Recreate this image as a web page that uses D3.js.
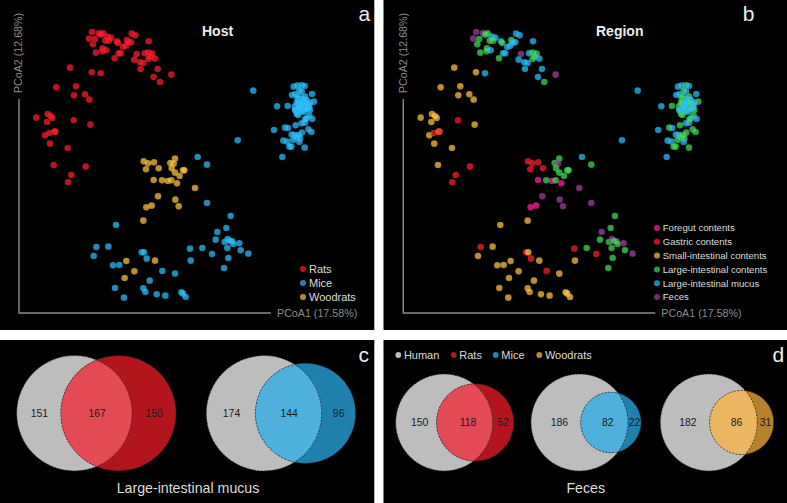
<!DOCTYPE html>
<html>
<head>
<meta charset="utf-8">
<script src="https://cdn.jsdelivr.net/npm/d3@7"></script>
<style>
  html, body { margin: 0; padding: 0; background: #fff; }
  svg { display: block; }
  text { font-family: "Liberation Sans", Arial, sans-serif; }
</style>
</head>
<body>
<svg id="chart" width="787" height="503"></svg>
<script>
// ordination scores, [pcoa1, pcoa2, region]
// F foregut, G gastric, S small-int, L large-int contents, M mucus, X feces
const rats = [
  [276,904,"X"],[296,900,"X"],[310,900,"L"],[303,896,"L"],[267,884,"X"],[285,883,"L"],[279,867,"L"],[322,890,"M"],
  [333,887,"M"],[316,878,"L"],[327,878,"L"],[350,876,"M"],[354,871,"L"],[395,899,"M"],[406,894,"M"],[381,880,"L"],
  [393,873,"M"],[378,863,"M"],[369,859,"M"],[385,872,"M"],[446,876,"M"],[288,842,"L"],[308,855,"L"],[307,846,"L"],
  [319,849,"M"],[356,840,"M"],[363,840,"M"],[344,825,"L"],[410,838,"X"],[403,821,"M"],[434,840,"M"],[445,842,"L"],
  [457,839,"L"],[451,830,"L"],[465,824,"M"],[445,823,"L"],[420,813,"M"],[430,811,"M"],[422,793,"M"],[473,793,"M"],
  [461,769,"M"],[480,754,"L"],[514,776,"X"],[210,797,"S"],[275,783,"S"],[302,780,"M"],[169,738,"S"],[228,741,"S"],
  [222,714,"S"],[255,717,"S"],[268,701,"S"],[109,647,"S"],[143,658,"S"],[152,652,"S"],[157,646,"S"],[141,634,"S"],
  [221,639,"G"],[271,626,"S"],[135,594,"S"],[148,601,"G"],[164,605,"S"],[166,605,"G"],[150,569,"S"],[203,556,"S"],
  [161,505,"S"],[257,500,"G"],[214,475,"G"],[204,453,"G"]
];
const mice = [
  [348,325,"S"],[289,259,"G"],[325,260,"S"],[281,232,"S"],[339,204,"S"],[358,205,"S"],[345,136,"S"],[372,107,"S"],
  [425,243,"G"],[432,243,"S"],[440,224,"G"],[487,187,"G"],[525,179,"S"],[449,158,"S"],[430,135,"S"],[436,124,"S"],
  [470,117,"S"],[496,113,"S"],[544,123,"S"],[549,119,"S"],[557,109,"S"],[570,254,"G"],[572,218,"S"],
  [621,506,"L"],[621,391,"X"],[692,352,"L"],[652,304,"X"],[679,316,"L"],[647,281,"L"],[674,274,"L"],[683,283,"X"],
  [697,276,"X"],[700,268,"L"],[690,277,"L"],[718,270,"X"],[682,256,"L"],[722,249,"L"],[745,239,"X"],[685,226,"L"],
  [672,196,"L"],[607,256,"L"],[636,238,"G"],
  [760,728,"M"],[831,681,"M"],[863,682,"L"],[822,610,"M"],[855,617,"L"],[864,616,"M"],[887,624,"L"],[713,579,"M"],
  [593,529,"M"],[847,529,"M"],[914,557,"L"],
  [881,740,"M"],[892,743,"M"],[905,744,"L"],[914,742,"M"],[876,715,"M"],[886,717,"M"],[898,728,"L"],[905,725,"M"],
  [936,718,"M"],[915,710,"L"],[942,695,"L"],[892,702,"L"],[908,704,"M"],[920,700,"M"],[884,680,"L"],[895,690,"M"],
  [903,682,"L"],[915,680,"L"],[925,675,"M"],[888,667,"M"],[900,670,"L"],[913,665,"L"],[890,658,"L"],[928,653,"L"],
  [920,645,"M"],[915,632,"M"],[905,630,"M"],[937,643,"M"],[915,642,"L"],[895,655,"L"],[925,612,"L"],[934,604,"L"],
  [900,680,"M"],[910,695,"M"],[925,685,"L"],[930,670,"L"],[885,670,"M"],[895,710,"L"],
  [890,690,"L"],[905,690,"M"],[918,690,"L"],[928,682,"M"],[905,665,"M"],[918,672,"M"],[930,692,"M"],[897,676,"M"],
  [875,596,"M"],[884,595,"M"],[906,602,"L"],[896,595,"L"],[890,588,"L"],[900,585,"L"],[850,578,"M"],[862,575,"M"],
  [880,580,"L"],[898,574,"M"],[868,560,"L"],[874,560,"L"]
];
const woodrats = [
  [431,516,"G"],[444,510,"G"],[462,513,"G"],[476,495,"G"],[438,492,"G"],[525,524,"L"],[511,511,"L"],[521,509,"X"],
  [515,495,"L"],[525,482,"L"],[549,489,"L"],[553,489,"L"],[539,472,"L"],[461,460,"F"],[486,459,"L"],[503,457,"F"],
  [514,459,"L"],[531,450,"F"],[585,436,"X"],[474,411,"X"],[526,401,"X"],[536,381,"X"],[455,383,"F"],[439,378,"F"],
  [430,338,"S"],[379,217,"S"],[403,186,"S"],[374,166,"S"],[465,218,"S"]
];

const hostNames = ["Rats", "Mice", "Woodrats"];
const hostColors = ["#ff1e2c", "#2cbbfb", "#ffbf40"];
const regionKeys = ["F", "G", "S", "L", "M", "X"];
const regionNames = ["Foregut contents", "Gastric contents", "Small-intestinal contents",
                     "Large-intestinal contents", "Large-intestinal mucus", "Feces"];
const regionColors = ["#ff2099", "#ff1e2c", "#ffbf40", "#41d657", "#2cbbfb", "#9a4199"];

// shared OTU counts: [human only, shared, other only]
const mucusCounts = [[151, 167, 150], [174, 144, 96]];
const fecesCounts = [[150, 118, 52], [186, 82, 22], [182, 86, 31]];

const dotOpacity = 0.72;

const svg = d3.select("#chart");
const defs = svg.append("defs");

// panels
const panels = [[0, 0, 374.3, 330], [383.5, 0, 403.5, 330], [0, 340, 374.3, 163], [383.5, 340, 403.5, 163]];
svg.selectAll(".panel").data(panels).enter().append("rect")
  .attr("class", "panel")
  .attr("x", d => d[0]).attr("y", d => d[1])
  .attr("width", d => d[2]).attr("height", d => d[3])
  .attr("fill", "#000");

// little sphere look on the points
const gradId = c => "g" + c.slice(1);
const grads = defs.selectAll("radialGradient")
  .data(Array.from(new Set(hostColors.concat(regionColors))))
  .enter().append("radialGradient")
  .attr("id", gradId)
  .attr("cx", "50%").attr("cy", "42%").attr("r", "58%");
grads.append("stop").attr("offset", "0%").attr("stop-color", d => d3.color(d).brighter(0.25));
grads.append("stop").attr("offset", "75%").attr("stop-color", d => d);
grads.append("stop").attr("offset", "100%").attr("stop-color", d => d3.color(d).darker(0.35));

const xScale = d3.scaleLinear().domain([57, 813]).range([0, 252]);
const yScale = d3.scaleLinear().domain([61, 703]).range([313, 99]);

function drawPcoa(shift, title, titleX, letter, pts, colorOf) {
  const g = svg.append("g").attr("transform", `translate(${shift},0)`);
  const axis = d3.path();
  axis.moveTo(19, yScale(703));
  axis.lineTo(19, yScale(61));
  axis.lineTo(19 + xScale(813), yScale(61));
  g.append("path").attr("d", axis.toString()).attr("fill", "none")
    .attr("stroke", "#8c8c8c").attr("stroke-width", 1.4);
  g.append("text").attr("transform", "translate(22.3,53) rotate(-90)")
    .attr("text-anchor", "middle").attr("font-size", 10.7).attr("fill", "#8c8c8c")
    .text("PCoA2 (12.68%)");
  g.append("text").attr("x", 277).attr("y", 316.7)
    .attr("font-size", 10.7).attr("fill", "#8c8c8c").text("PCoA1 (17.58%)");
  g.append("text").attr("x", titleX).attr("y", 36)
    .attr("font-size", 14).attr("font-weight", "bold").attr("fill", "#eee").text(title);
  g.append("text").attr("x", 358.5).attr("y", 21)
    .attr("font-size", 21).attr("fill", "#eee").text(letter);

  g.append("g").selectAll("circle").data(pts).enter().append("circle")
    .attr("cx", d => 19 + xScale(d[0]))
    .attr("cy", d => yScale(d[1]))
    .attr("r", 3.3)
    .attr("fill", d => `url(#${gradId(colorOf(d))})`)
    .attr("fill-opacity", dotOpacity);
  return g;
}

function legend(g, names, colors, cx, ys, tx, size) {
  const rows = g.selectAll(".lg").data(names).enter().append("g").attr("class", "lg");
  rows.append("circle").attr("cx", cx).attr("cy", (d, i) => ys(i)).attr("r", 3)
    .attr("fill", (d, i) => colors[i]).attr("fill-opacity", dotOpacity);
  rows.append("text").attr("x", tx).attr("y", (d, i) => ys(i) + size * 0.36)
    .attr("font-size", size).attr("fill", "#ddd").text(d => d);
}

const hostPts = [].concat(
  rats.map(d => [d[0], d[1], 0]),
  mice.map(d => [d[0], d[1], 1]),
  woodrats.map(d => [d[0], d[1], 2])
);
const regionPts = rats.concat(mice, woodrats);

const ga = drawPcoa(0, "Host", 202, "a", hostPts, d => hostColors[d[2]]);
legend(ga, hostNames, hostColors, 303, i => 269 + i * 14, 309, 11);
const gb = drawPcoa(384.3, "Region", 211.7, "b", regionPts, d => regionColors[regionKeys.indexOf(d[2])]);
legend(gb, regionNames, regionColors, 272.7, i => 228 + i * 13.8, 278.4, 9.6);

// venns: radius follows set size, distance follows the shared count
function lensArea(r1, r2, d) {
  if (d >= r1 + r2) return 0;
  if (d <= Math.abs(r1 - r2)) return Math.PI * Math.min(r1, r2) ** 2;
  const a = r1 * r1 * Math.acos((d * d + r1 * r1 - r2 * r2) / (2 * d * r1));
  const b = r2 * r2 * Math.acos((d * d + r2 * r2 - r1 * r1) / (2 * d * r2));
  const c = 0.5 * Math.sqrt((-d + r1 + r2) * (d + r1 - r2) * (d - r1 + r2) * (d + r1 + r2));
  return a + b - c;
}
function solveDistance(r1, r2, area) {
  let lo = Math.abs(r1 - r2), hi = r1 + r2;
  for (let i = 0; i < 50; i++) {
    const mid = (lo + hi) / 2;
    if (lensArea(r1, r2, mid) > area) lo = mid; else hi = mid;
  }
  return (lo + hi) / 2;
}

let clipN = 0;
function drawVenn(cx, cy, counts, rScale, color, light, nudge) {
  const [a, ab, b] = counts;
  const r1 = rScale(a + ab), r2 = rScale(b + ab);
  const unit = (r1 * r1 * Math.PI) / (a + ab);
  const cx2 = cx + solveDistance(r1, r2, ab * unit);
  const id = "clip" + clipN++;
  defs.append("clipPath").attr("id", id).append("circle")
    .attr("cx", cx).attr("cy", cy).attr("r", r1);
  svg.append("circle").attr("cx", cx).attr("cy", cy).attr("r", r1).attr("fill", "#bdbdbd");
  svg.append("circle").attr("cx", cx2).attr("cy", cy).attr("r", r2).attr("fill", color);
  svg.append("circle").attr("cx", cx2).attr("cy", cy).attr("r", r2).attr("fill", light)
    .attr("clip-path", `url(#${id})`);
  [[cx, r1], [cx2, r2]].forEach(c => {
    svg.append("circle").attr("cx", c[0]).attr("cy", cy).attr("r", c[1])
      .attr("fill", "none").attr("stroke", "#2a2a2a")
      .attr("stroke-width", 0.8).attr("stroke-dasharray", "2 1.4");
  });
  const lensL = cx2 - r2, lensR = cx + r1;
  const mids = [(cx - r1 + lensL) / 2 + nudge, (lensL + lensR) / 2 + nudge, (lensR + cx2 + r2) / 2];
  svg.selectAll(null).data(counts).enter().append("text")
    .attr("x", (d, i) => mids[i]).attr("y", cy + 3.6)
    .attr("text-anchor", "middle").attr("font-size", 10.4).attr("fill", "#1a1a1a")
    .text(d => d);
}

const rMucus = d3.scaleSqrt().domain([0, 318]).range([0, 57.7]);
const rFeces = d3.scaleSqrt().domain([0, 268]).range([0, 48.5]);
drawVenn(74.4, 413.3, mucusCounts[0], rMucus, "#b2151c", "#e34a54", 0.7);
drawVenn(264, 413.3, mucusCounts[1], rMucus, "#1f81ae", "#4eb0dc", 0.7);
drawVenn(444.2, 422.5, fecesCounts[0], rFeces, "#b2151c", "#e34a54", 3.5);
drawVenn(579.5, 422.5, fecesCounts[1], rFeces, "#1f81ae", "#4eb0dc", 3.5);
drawVenn(708.8, 422.5, fecesCounts[2], rFeces, "#b5812c", "#ebb65f", 3);

const captions = [["Large-intestinal mucus", 188], ["Feces", 585.7]];
svg.selectAll(".cap").data(captions).enter().append("text").attr("class", "cap")
  .attr("x", d => d[1]).attr("y", 492.7).attr("text-anchor", "middle")
  .attr("font-size", 14.2).attr("fill", "#ddd").text(d => d[0]);
svg.selectAll(".letter").data([["c", 358.5], ["d", 772.5]]).enter().append("text").attr("class", "letter")
  .attr("x", d => d[1]).attr("y", 361.5).attr("font-size", 21).attr("fill", "#eee").text(d => d[0]);

// legend of panel d, one row
const keyNames = ["Human"].concat(hostNames);
const keyColors = ["#bdbdbd"].concat(hostColors);
const keyOpacity = [1, dotOpacity, dotOpacity, dotOpacity];
const keyDot = [398.3, 453.7, 495.7, 539.3];
const keys = svg.selectAll(".key").data(keyNames).enter().append("g").attr("class", "key");
keys.append("circle").attr("cx", (d, i) => keyDot[i]).attr("cy", 355).attr("r", 2.9)
  .attr("fill", (d, i) => keyColors[i]).attr("fill-opacity", (d, i) => keyOpacity[i]);
keys.append("text").attr("x", (d, i) => keyDot[i] + 5.6).attr("y", 359)
  .attr("font-size", 11).attr("fill", "#ddd").text(d => d);
</script>
</body>
</html>
